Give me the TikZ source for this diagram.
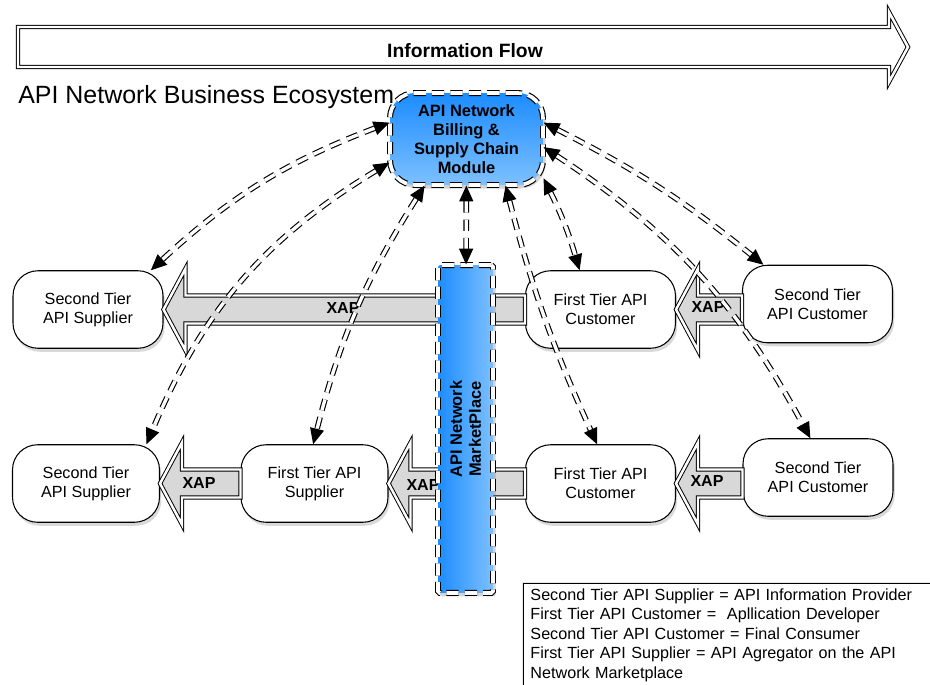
\documentclass[tikz,border=0pt]{standalone}
\usepackage{fontspec}
\setmainfont{Liberation Sans}
\usetikzlibrary{positioning, arrows.meta, calc, shadows}

\definecolor{netblue}{RGB}{28,140,255}
\definecolor{netlight}{RGB}{125,192,255}
\definecolor{xapgray}{RGB}{216,216,216}

\tikzset{
    actor/.style={draw, line width=0.6pt, fill=white, rounded corners=0.5cm, minimum width=3cm, minimum height=1.55cm, align=center, font=\fontsize{9.2}{10.8}\selectfont, drop shadow={opacity=0.3, shadow xshift=1pt, shadow yshift=-2pt}},
    hub/.style={draw, double, double distance=2.1pt, line width=0.65pt, dash pattern=on 7pt off 3.5pt, align=center, font=\bfseries\fontsize{9.35}{10.9}\selectfont, drop shadow={opacity=0.35, shadow xshift=1.5pt, shadow yshift=-2pt}},
    dashedge/.style={draw, double, double distance=1.9pt, line width=0.65pt, dash pattern=on 6.5pt off 4pt, {Triangle[length=9pt,width=8pt]}-{Triangle[length=9pt,width=8pt]}},
    xap/.style={draw, double, double distance=1.4pt, line width=0.55pt, fill=xapgray, line join=miter},
    xaptext/.style={font=\bfseries\fontsize{9.1}{11}\selectfont},
}

\begin{document}
\begin{tikzpicture}[x=0.02cm, y=-0.02cm]
        \useasboundingbox (0,0) rectangle (930,684);

        % banner on top
        \draw[double, double distance=1.4pt, line width=0.55pt, fill=white] (18,27) -- (889,27) -- (889,12) -- (908,47) -- (889,82) -- (889,67) -- (18,67) -- cycle;
        \node[font=\bfseries\fontsize{11}{13}\selectfont, anchor=base] (flow) at (465,57) {Information Flow};
        \node[font=\fontsize{14.2}{17}\selectfont, anchor=base west, inner sep=0pt] (title) at (18,103) {API Network Business Ecosystem};

        \node[actor] (sup2top) at (88,309.5) {Second Tier\\API Supplier}; % second tier supplier
        \node[actor] (cust1top) at (600.5,309.5) {First Tier API\\Customer}; % first tier customer
        \node[actor] (cust2top) at (817.5,304) {Second Tier\\API Customer}; % second tier customer
        \node[actor, minimum width=2.94cm] (sup2bot) at (86,483.5) {Second Tier\\API Supplier}; % second tier supplier
        \node[actor, minimum width=2.94cm] (sup1) at (314.5,483.5) {First Tier API\\Supplier}; % first tier supplier
        \node[actor] (cust1bot) at (600.5,483.5) {First Tier API\\Customer}; % first tier customer
        \node[actor] (cust2bot) at (818,477.5) {Second Tier\\API Customer}; % second tier customer

        % XAP links, pointing left
        \draw[xap] (sup2top.east) -- ++(22,-41) -- ++(0,27) -- ($(sup2top.east -| cust1top.west)+(0,-14)$) -- ++(0,28) -- ($(sup2top.east)+(22,14)$) -- ++(0,27) -- cycle;
        \draw[xap] (cust1top.east) -- ++(22,-41) -- ++(0,27) -- ($(cust1top.east -| cust2top.west)+(0,-14)$) -- ++(0,28) -- ($(cust1top.east)+(22,14)$) -- ++(0,27) -- cycle;
        \draw[xap] (sup2bot.east) -- ++(22,-41) -- ++(0,27) -- ($(sup2bot.east -| sup1.west)+(0,-14)$) -- ++(0,28) -- ($(sup2bot.east)+(22,14)$) -- ++(0,27) -- cycle;
        \draw[xap] (sup1.east) -- ++(22,-41) -- ++(0,27) -- ($(sup1.east -| cust1bot.west)+(0,-14)$) -- ++(0,28) -- ($(sup1.east)+(22,14)$) -- ++(0,27) -- cycle;
        \draw[xap] (cust1bot.east) -- ++(22,-41) -- ++(0,27) -- ($(cust1bot.east -| cust2bot.west)+(0,-14)$) -- ++(0,28) -- ($(cust1bot.east)+(22,14)$) -- ++(0,27) -- cycle;
        \node[xaptext] (xap1) at (343,308) {XAP};
        \node[xaptext] (xap2) at (708,307) {XAP};
        \node[xaptext] (xap3) at (199,483) {XAP};
        \node[xaptext] (xap4) at (423,485) {XAP};
        \node[xaptext] (xap5) at (707,481) {XAP};

        \node[hub, top color=netblue, bottom color=netlight, rounded corners=0.5cm, minimum width=3.06cm, minimum height=1.84cm] (billing) at (466.5,139) {API Network\\Billing \&\\Supply Chain\\Module}; % billing module
        \node[hub, left color=netblue, right color=netlight, rounded corners=1pt, minimum width=1.1cm, minimum height=6.56cm] (market) at (465.5,429) {}; % marketplace
        \node[rotate=90, align=center, font=\bfseries\fontsize{9.35}{10.9}\selectfont] (marketname) at (465.5,429) {API Network\\MarketPlace};

        \draw
            (billing.168) edge[dashedge, bend right=11] (sup2top.32)
            (billing.197) edge[dashedge, bend right=18] (sup2bot.33)
            (billing.228) edge[dashedge, bend right=9] (sup1.92)
            (billing) edge[dashedge] (market)
            (billing.310) edge[dashedge, bend right=5] (cust1bot.95)
            (billing.333) edge[dashedge, bend left=5] (cust1top.118)
            (billing.12) edge[dashedge, bend left=6] (cust2top.144)
            (billing.354) edge[dashedge, bend left=14] (cust2bot.101)
            ;

        \node[draw, line width=0.5pt, fill=white, anchor=north west, text width=8.05cm, inner xsep=4pt, inner ysep=3pt, align=left, font=\fontsize{9.2}{11.05}\selectfont, drop shadow={opacity=0.2, shadow xshift=-1pt, shadow yshift=1pt}] (legend) at (523,583) {Second Tier API Supplier = API Information Provider\\First Tier API Customer =~ Apllication Developer\\Second Tier API Customer = Final Consumer\\First Tier API Supplier = API Agregator on the API\\Network Marketplace};
    \end{tikzpicture}
\end{document}
